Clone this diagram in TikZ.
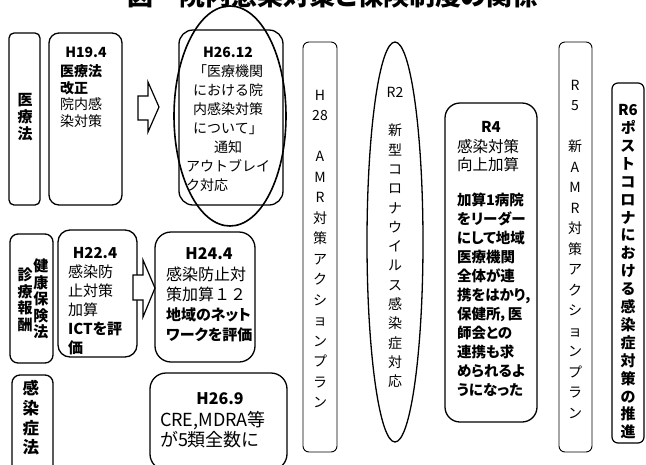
\documentclass[tikz,border=0pt]{standalone}
\usepackage{fontspec}
\setmainfont{Noto Sans CJK JP}[BoldFeatures={RawFeature=+palt}]
\newcommand{\fsz}[2]{\fontsize{#1}{#2}\selectfont}
\begin{document}
\begin{tikzpicture}[x=1pt,y=-1pt,
  boxline/.style={draw, line width=1.3pt},
  thinbox/.style={draw, line width=0.9pt, rounded corners=6pt},
  lbl/.style={inner sep=0pt, outer sep=0pt},
  col/.style={lbl, anchor=north, align=center}]
\useasboundingbox (0,0) rectangle (646,464);

% title (cut off at the top)
\node[lbl, anchor=base, font=\fsz{26}{30}\bfseries] (title) at (333,5) {図　院内感染対策と保険制度の関係};

% row labels
\draw[boxline, rounded corners=5pt] (9,33) rectangle (40,205);
\node[col, font=\fsz{15}{17}\bfseries] (iryoho) at (25,93) {医\\療\\法};

\draw[boxline, rounded corners=8pt] (10,234) rectangle (53,363);
\node[col, font=\fsz{15}{16.5}\bfseries] (kenpo) at (41,259) {健\\康\\保\\険\\法};
\node[col, font=\fsz{15}{16.5}\bfseries] (shinryo) at (25,268) {診\\療\\報\\酬};

\draw[boxline, rounded corners=8pt] (12,375) rectangle (53,478);
\node[col, font=\fsz{16.5}{19.7}\bfseries] (kansen) at (31,380.5) {感\\染\\症\\法};

% H19.4
\draw[boxline, rounded corners=10pt] (49,33) rectangle (122,205);
\node[lbl, anchor=base, font=\fsz{14}{17}\bfseries] (h194) at (86,57) {H19.4};
\node[lbl, anchor=north west, align=left, font=\fsz{14}{16.5}] (h194b) at (60,65) {\textbf{医療法}\\\textbf{改正}\\院内感\\染対策};

% arrow 1
\draw[line width=1.2pt, fill=white] (138,96) -- (148,96) -- (148,82) -- (159,107) -- (148,132) -- (148,120) -- (138,120) -- cycle;

% H26.12
\draw[boxline, rounded corners=14pt] (179,30) rectangle (283,205);
\draw[line width=1.6pt] (230,116) ellipse [x radius=56, y radius=110];
\node[lbl, anchor=base, font=\fsz{14}{19}\bfseries] (h2612) at (228,57) {H26.12};
\node[col, font=\fsz{14}{19}] (h2612b) at (228,65) {「医療機関\\における院\\内感染対策\\について」\\通知\\アウトブレイ\\ク対応\hphantom{ブレイ}};

% H22.4
\draw[boxline, rounded corners=12pt] (58,230) rectangle (137,357);
\node[lbl, anchor=base, font=\fsz{15}{19}\bfseries] (h224) at (95,258.5) {H22.4};
\node[lbl, anchor=north west, align=left, font=\fsz{15}{19}] (h224b) at (68,265) {感染防\\止対策\\加算\\\textbf{ICTを評}\\\textbf{価}};

% arrow 2
\draw[line width=1.2pt, fill=white] (133,275) -- (143,275) -- (143,260) -- (155,288) -- (143,317) -- (143,300) -- (133,300) -- cycle;

% H24.4
\draw[boxline, rounded corners=16pt] (155,232) rectangle (255,362);
\node[lbl, anchor=base, font=\fsz{16}{20}\bfseries] (h244) at (209,259) {H24.4};
\node[lbl, anchor=north west, align=left, font=\fsz{16}{20}] (h244b) at (166,267) {感染防止対\\策加算１２\\\textbf{\fsz{15}{20}地域のネット}\\\textbf{\fsz{15}{20}ワークを評価}};

% H26.9
\draw[boxline, rounded corners=16pt] (150,373) rectangle (287,470);
\node[lbl, anchor=base, font=\fsz{16}{20}\bfseries] (h269) at (220,404) {H26.9};
\node[lbl, anchor=north west, align=left, font=\fsz{18}{20.5}] (h269b) at (160,411) {CRE,MDRA等\\が5類全数に};

% H28
\draw[thinbox] (303,42) rectangle (337,452);
\node[col, font=\fsz{14}{20.5}] (h28) at (320,90) {H\\28\\[20.5pt]A\\M\\R\\対\\策\\ア\\ク\\シ\\ョ\\ン\\プ\\ラ\\ン};

% R2
\draw[line width=1.3pt] (395,242) ellipse [x radius=28, y radius=200];
\node[col, font=\fsz{14}{19.3}] (r2) at (395,87) {R2\\[19.3pt]新\\型\\コ\\ロ\\ナ\\ウ\\イ\\ル\\ス\\感\\染\\症\\対\\応};

% R4
\draw[boxline, rounded corners=15pt] (445,103) rectangle (537,422);
\node[lbl, anchor=base, font=\fsz{15}{19}\bfseries] (r4) at (491,132) {R4};
\node[lbl, anchor=north west, align=left, font=\fsz{15.5}{18}] (r4a) at (457,139.5) {感染対策\\向上加算};
\node[lbl, anchor=north west, align=left, font=\fsz{14.5}{19}\bfseries] (r4b) at (457,193) {加算1病院\\をリーダー\\にして地域\\医療機関\\全体が連\\携をはかり,\\保健所，医\\師会との\\連携も求\\められるよ\\うになった};

% R5
\draw[thinbox] (559,42) rectangle (592,452);
\node[col, font=\fsz{14}{20.5}] (r5) at (575,80) {R\\5\\[20.5pt]新\\A\\M\\R\\対\\策\\ア\\ク\\シ\\ョ\\ン\\プ\\ラ\\ン};

% R6
\draw[boxline, line width=1.2pt, rounded corners=6pt] (612,83) rectangle (644,443);
\node[col, font=\fsz{15}{17.9}\bfseries] (r6) at (628,104.5) {R6\\ポ\\ス\\ト\\コ\\ロ\\ナ\\に\\お\\け\\る\\感\\染\\症\\対\\策\\の\\推\\進};
\end{tikzpicture}
\end{document}
